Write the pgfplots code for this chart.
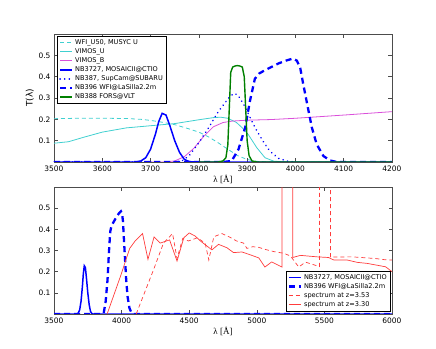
\documentclass[border=0pt]{standalone}
\usepackage{fontspec}
\setmainfont{DejaVu Sans}
\newfontfamily\lamfont{Liberation Serif}
\usepackage{pgfplots}
\usepackage{pgfplotstable}
\pgfplotsset{compat=1.18}
\definecolor{cyanline}{RGB}{64,208,208}
\definecolor{magline}{RGB}{218,80,218}
\definecolor{redline}{RGB}{255,60,60}
\definecolor{darkgreen}{RGB}{0,128,0}

% filter curves shared by both panels
\pgfplotstableread{
lam T
3500 0
3670 0
3680 0.005
3690 0.02
3700 0.06
3710 0.13
3717 0.19
3724 0.228
3732 0.22
3740 0.17
3750 0.10
3760 0.045
3770 0.012
3780 0.002
3790 0
6000 0
}\nbA
\pgfplotstableread{
lam T
3500 0
3850 0
3868 0.005
3882 0.059
3896 0.162
3906 0.288
3916 0.39
3925 0.415
3935 0.428
3950 0.445
3965 0.462
3980 0.475
3995 0.485
4003 0.475
4010 0.44
4016 0.367
4027 0.241
4034 0.162
4044 0.083
4058 0.028
4072 0.007
4086 0
6000 0
}\nbB

\pgfplotsset{
  refaxis/.style={
    scale only axis, anchor=south west,
    width=338bp,
    ymin=0, ymax=0.6,
    ytick={0.1,0.2,0.3,0.4,0.5},
    yticklabel style={/pgf/number format/fixed,/pgf/number format/precision=1},
    tick align=inside, xtick pos=both, ytick pos=both,
    major tick length=3.5bp, minor tick num=0,
    tick label style={font=\fontsize{7.5}{8}\selectfont},
    /pgf/number format/assume math mode=true,
    axis line style={line width=0.6pt, black!70},
    every tick/.style={black!70, line width=0.5pt},
    xlabel={{\lamfont λ [Å]}},
    xlabel style={font=\fontsize{9}{10}\selectfont, yshift=3bp},
    legend style={font=\fontsize{6.6}{7}\selectfont, draw=black, line width=0.5pt,
      inner sep=1.3pt, row sep=-1.3pt, cells={anchor=west}},
    legend image code/.code={\draw[#1] (0bp,0bp) -- (12bp,0bp);},
    clip=true,
  }
}

\begin{document}
\begin{tikzpicture}
\useasboundingbox (0,0) rectangle (436bp,349bp);

\begin{axis}[refaxis, at={(54bp,187bp)}, height=128bp,
  xmin=3500, xmax=4200, xtick={3500,3600,...,4200},
  xticklabel style={/pgf/number format/1000 sep={}},
  ylabel={T(λ)}, ylabel style={font=\fontsize{9}{10}\selectfont, yshift=-2bp},
  legend style={at={(0.01,0.985)}, anchor=north west}]
\addplot[cyanline, line width=0.8pt, dash pattern=on 4bp off 3bp] coordinates {
(3500,0.203)(3550,0.205)(3600,0.205)(3650,0.204)(3680,0.200)(3700,0.195)(3720,0.188)
(3750,0.175)(3780,0.155)(3800,0.14)(3820,0.118)(3840,0.09)(3860,0.06)(3880,0.03)
(3900,0.012)(3920,0.003)(3950,0)(4200,0)};
\addlegendentry{WFI\_U50, MUSYC U}
\addplot[cyanline, line width=0.8pt] coordinates {
(3500,0.088)(3530,0.095)(3560,0.115)(3600,0.14)(3650,0.16)(3700,0.17)(3750,0.18)
(3800,0.198)(3830,0.208)(3845,0.21)(3860,0.205)(3878,0.185)(3890,0.16)(3902,0.13)
(3920,0.067)(3937,0.02)(3955,0.004)(3980,0)(4200,0)};
\addlegendentry{VIMOS\_U}
\addplot[magline, line width=0.8pt] coordinates {
(3700,0)(3730,0)(3750,0.005)(3770,0.025)(3790,0.065)(3810,0.12)(3830,0.165)(3850,0.185)
(3870,0.192)(3900,0.196)(3950,0.199)(4000,0.205)(4100,0.22)(4200,0.236)};
\addlegendentry{VIMOS\_B}
\addplot[blue, line width=1.5pt] table[x=lam,y=T] {\nbA};
\addlegendentry{NB3727, MOSAICII@CTIO}
\addplot[blue, line width=1.7pt, dash pattern=on 0.1bp off 4.5bp, line cap=round] coordinates {
(3500,0)(3750,0)(3765,0.005)(3780,0.03)(3800,0.09)(3820,0.16)(3840,0.235)(3855,0.28)
(3865,0.31)(3875,0.322)(3885,0.30)(3896,0.257)(3910,0.19)(3920,0.146)(3935,0.09)
(3947,0.051)(3965,0.017)(3985,0.003)(4000,0)};
\addlegendentry{NB387, SupCam@SUBARU}
\addplot[blue, line width=2.3pt, dash pattern=on 6bp off 4bp] table[x=lam,y=T] {\nbB};
\addlegendentry{NB396 WFI@LaSilla2.2m}
\addplot[darkgreen, line width=1.4pt] coordinates {
(3800,0)(3840,0)(3850,0.005)(3856,0.02)(3860,0.08)(3863,0.25)(3866,0.42)(3870,0.445)
(3875,0.45)(3880,0.452)(3885,0.45)(3890,0.445)(3894,0.40)(3897,0.25)(3900,0.10)
(3904,0.03)(3910,0.005)(3920,0)(4200,0)};
\addlegendentry{NB388 FORS@VLT}
\end{axis}

\begin{axis}[refaxis, at={(54bp,35bp)}, height=127bp,
  xmin=3500, xmax=6000, xtick={3500,4000,...,6000},
  xticklabel style={/pgf/number format/1000 sep={}},
  legend style={at={(0.995,0.02)}, anchor=south east}]
\addplot[blue, line width=1.5pt] table[x=lam,y=T] {\nbA};
\addlegendentry{NB3727, MOSAICII@CTIO}
\addplot[blue, line width=2.3pt, dash pattern=on 6bp off 4bp] table[x=lam,y=T] {\nbB};
\addlegendentry{NB396 WFI@LaSilla2.2m}
\addplot[redline, line width=0.7pt, dash pattern=on 4bp off 3bp] coordinates {
(4108,0)(4235,0.207)(4310,0.335)(4377,0.38)(4410,0.262)(4452,0.357)(4494,0.345)
(4560,0.36)(4618,0.335)(4645,0.255)(4682,0.365)(4742,0.38)(4803,0.362)(4850,0.345)
(4902,0.335)(4927,0.31)(4970,0.318)(5013,0.315)(5063,0.305)(5125,0.295)(5199,0.287)
(5249,0.274)(5310,0.222)(5360,0.245)(5464,0.224)(5466,2)(5543,2)(5545,0.269)
(5706,0.27)(5879,0.262)(5953,0.256)(6000,0.255)};
\addlegendentry{spectrum at z=3.53}
\addplot[redline, line width=0.7pt] coordinates {
(3893,0)(3990,0.175)(4060,0.31)(4100,0.345)(4155,0.38)(4195,0.258)(4240,0.364)
(4285,0.335)(4355,0.35)(4410,0.25)(4460,0.36)(4500,0.383)(4545,0.368)(4581,0.346)
(4668,0.303)(4717,0.329)(4779,0.313)(4828,0.29)(4890,0.293)(4950,0.28)(5015,0.265)
(5060,0.222)(5110,0.246)(5186,0.222)(5188,2)(5264,2)(5266,0.267)(5323,0.277)
(5446,0.27)(5530,0.267)(5570,0.255)(5669,0.255)(5743,0.244)(5817,0.239)(5953,0.223)
(6000,0.2)};
\addlegendentry{spectrum at z=3.30}
\end{axis}
\end{tikzpicture}
\end{document}
